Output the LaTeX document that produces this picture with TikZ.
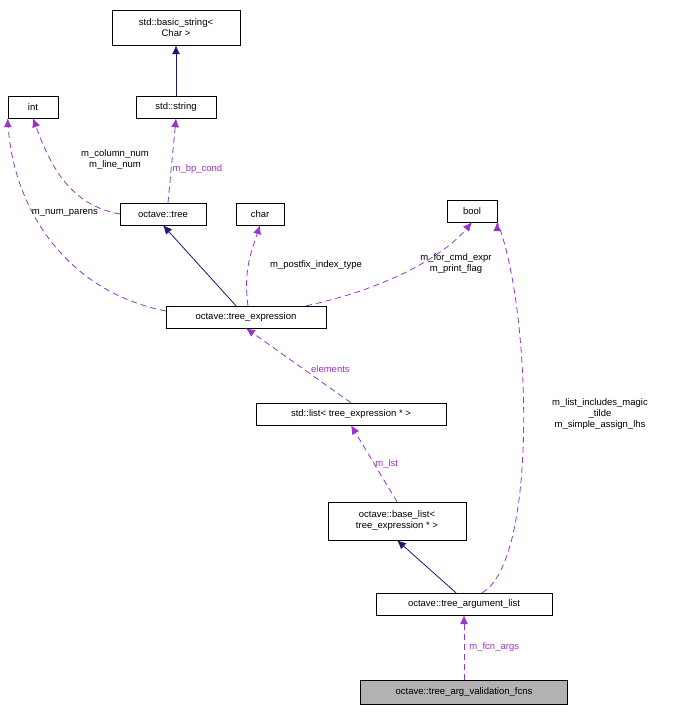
\documentclass[tikz,border=0pt]{standalone}
\usepackage{fontspec}
\setmainfont{Liberation Sans}
\usetikzlibrary{arrows.meta}
\definecolor{navy}{HTML}{191970}
\definecolor{purp}{HTML}{9A32CD}
\begin{document}
\begin{tikzpicture}[x=1pt,y=-1pt,font=\fontsize{9.5}{11}\selectfont,
 box/.style={draw,fill=white,inner sep=0pt,align=center},
 inh/.style={navy,thick,-{Latex[length=9pt,width=8pt]}},
 use/.style={purp,thick,dashed,dash pattern=on 6pt off 4pt,-{Latex[length=9pt,width=8pt]}},
 lbl/.style={inner sep=1pt,align=center}]
\useasboundingbox (0,0) rectangle (674,712);
\node[box,minimum width=128,minimum height=35] (bs) at (176,27.5) {std::basic\_string\textless\\Char \textgreater};
\node[box,minimum width=80,minimum height=22] (ss) at (176,107) {std::string};
\node[box,minimum width=50,minimum height=22] (int) at (33,107) {int};
\node[box,minimum width=86,minimum height=22] (tree) at (163,214) {octave::tree};
\node[box,minimum width=48,minimum height=22] (char) at (260,214) {char};
\node[box,minimum width=50,minimum height=22] (bool) at (472,211) {bool};
\node[box,minimum width=160,minimum height=22] (te) at (246,317) {octave::tree\_expression};
\node[box,minimum width=190,minimum height=22] (list) at (351,414) {std::list\textless{} tree\_expression * \textgreater};
\node[box,minimum width=138,minimum height=38] (bl) at (397,521) {octave::base\_list\textless\\tree\_expression * \textgreater};
\node[box,minimum width=176,minimum height=22] (tal) at (464,604) {octave::tree\_argument\_list};
\node[box,fill=black!30,minimum width=207,minimum height=24] (tav) at (464,692) {octave::tree\_arg\_validation\_fcns};

\draw[inh] (ss) -- (bs);
\draw[use] (tree.north) ++(5,0) -- (ss.south) node[lbl,pos=0.4,right] {m\_bp\_cond};
\draw[use] (tree.west) to[out=170,in=-70] (int.south);
\node[lbl,anchor=east] at (150,160) {m\_column\_num\\m\_line\_num};
\draw[use] (te.west) ++(0,-6) .. controls (60,290) and (10,200) .. (int.south west) ++(0,0);
\node[lbl] at (65,213) {m\_num\_parens};
\draw[inh] (te.north) ++(-10,0) -- (tree.south);
\draw[use] (te.north) ++(2,0) .. controls (243,270) and (252,250) .. (char.south);
\node[lbl] at (316,265) {m\_postfix\_index\_type};
\draw[use] (te.north east) ++(-20,0) .. controls (380,290) and (440,260) .. (bool.south);
\node[lbl] at (456,264) {m\_for\_cmd\_expr\\m\_print\_flag};
\draw[use] (list.north) -- (te.south) node[lbl,pos=0.45,right=6] {elements};
\draw[use] (bl.north) -- (list.south) node[lbl,pos=0.5,right] {m\_lst};
\draw[inh] (tal.north) ++(-8,0) -- (bl.south);
\draw[use] (tal.north) ++(18,0) .. controls (540,560) and (530,300) .. (bool.south east) ++(0,0);
\node[lbl] at (600,414) {m\_list\_includes\_magic\\\_tilde\\m\_simple\_assign\_lhs};
\draw[use] (tav.north) -- (tal.south) node[lbl,pos=0.5,right=4] {m\_fcn\_args};
\end{tikzpicture}
\end{document}
